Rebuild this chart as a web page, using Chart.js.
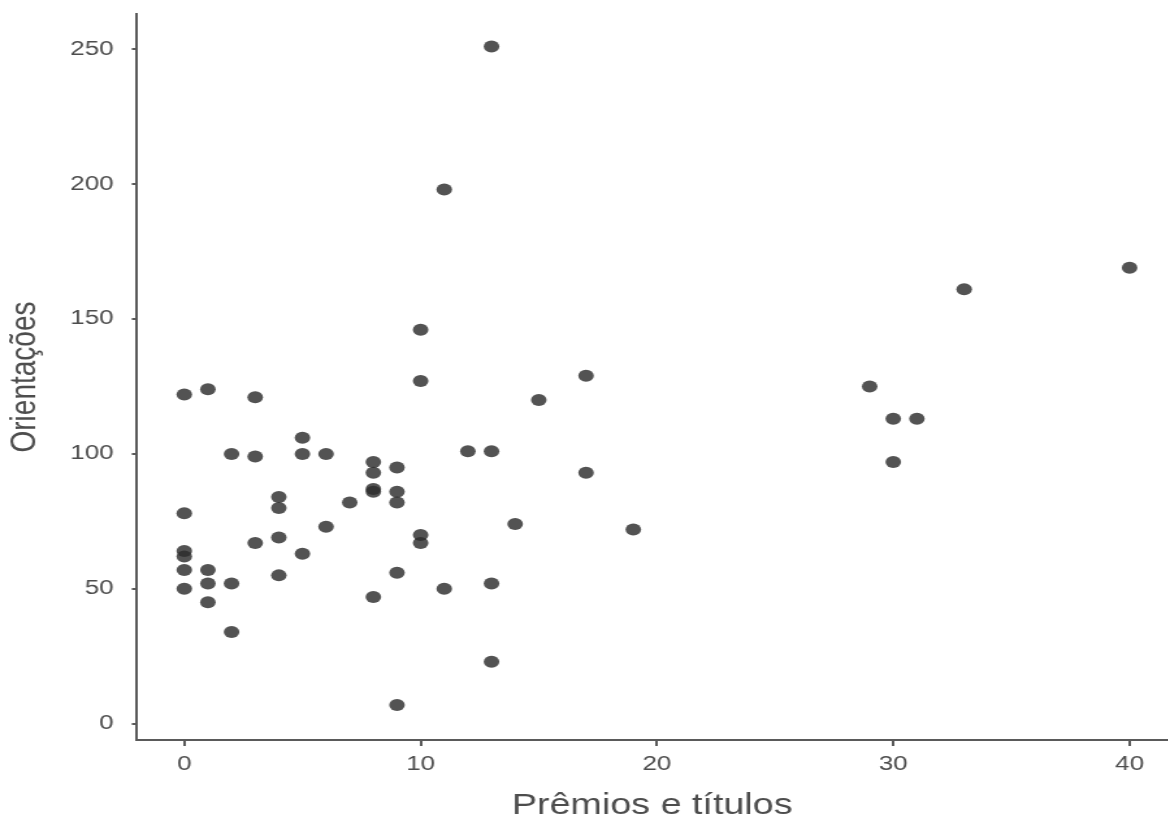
<!DOCTYPE html>
<html>
<head>
<meta charset="utf-8">
<script src="https://cdn.jsdelivr.net/npm/chart.js@4"></script>
<style>
  html, body { margin: 0; padding: 0; background: #fff; overflow: hidden; }
  /* a figura original está esticada na horizontal: desenha-se estreita e estica-se */
  #wrap { width: 904px; height: 823px; transform: scaleX(1.3); transform-origin: 0 0; }
</style>
</head>
<body>
<div id="wrap"><canvas id="grafico" width="904" height="823"></canvas></div>
<script>
// Prêmios e títulos (x) vs Orientações (y)
const premios = [13, 11, 40, 33, 10, 17, 10, 29, 1, 0, 3, 15, 30, 31, 5, 12, 13, 2, 5, 6,
  3, 30, 8, 9, 8, 17, 8, 8, 9, 4, 7, 9, 4, 0, 14, 6, 19, 10, 10, 4,
  3, 0, 0, 5, 0, 1, 9, 4, 1, 2, 13, 0, 11, 8, 1, 2, 13, 9];
const orientacoes = [251, 198, 169, 161, 146, 129, 127, 125, 124, 122, 121, 120, 113, 113, 106, 101, 101, 100, 100, 100,
  99, 97, 97, 95, 93, 93, 87, 86, 86, 84, 82, 82, 80, 78, 74, 73, 72, 70, 67, 69,
  67, 64, 62, 63, 57, 57, 56, 55, 52, 52, 52, 50, 50, 47, 45, 34, 23, 7];
const xTicks = [0, 10, 20, 30, 40];
const yTicks = [0, 50, 100, 150, 200, 250];

const pontos = premios.map((x, i) => ({ x: x, y: orientacoes[i] }));

const corEixo = '#5a5a5a';
const corTexto = '#4d4d4d';
const fonte = 'Liberation Sans, Arial, sans-serif';

const ctx = document.getElementById('grafico').getContext('2d');
const grafico = new Chart(ctx, {
  type: 'scatter',
  data: {
    datasets: [{
      label: 'Orientações',
      data: pontos,
      pointStyle: 'circle',
      pointRadius: 6,
      pointBorderWidth: 0,
      backgroundColor: 'rgba(45, 45, 45, 0.82)',
      borderColor: 'rgba(45, 45, 45, 0)'
    }]
  },
  options: {
    responsive: false,
    animation: false,
    layout: { padding: { left: 2, top: 14, right: 0, bottom: 0 } },
    plugins: {
      legend: { display: false },
      tooltip: { enabled: false }
    },
    scales: {
      x: {
        type: 'linear',
        min: -2,
        max: 41.6,
        afterBuildTicks: axis => { axis.ticks = xTicks.map(v => ({ value: v })); },
        afterFit: axis => {
          axis.height = 83;
          axis.paddingLeft = 0;
          axis.paddingRight = 0;
        },
        grid: { drawOnChartArea: false, drawTicks: true, tickLength: 6, color: corEixo, lineWidth: 2 },
        border: { display: true, color: corEixo, width: 2 },
        ticks: { color: corTexto, padding: 6, font: { family: fonte, size: 20 } },
        title: {
          display: true,
          text: 'Prêmios e títulos',
          color: corTexto,
          padding: { top: 0, bottom: 0 },
          font: { family: fonte, size: 29 }
        }
      },
      y: {
        type: 'linear',
        min: -6,
        max: 263,
        afterBuildTicks: axis => { axis.ticks = yTicks.map(v => ({ value: v })); },
        afterFit: axis => {
          axis.width = 103.4;
          axis.paddingTop = 0;
          axis.paddingBottom = 0;
        },
        grid: { drawOnChartArea: false, drawTicks: true, tickLength: 4, color: corEixo, lineWidth: 2 },
        border: { display: true, color: corEixo, width: 2 },
        ticks: { color: corTexto, padding: 14, font: { family: fonte, size: 20 } },
        title: {
          display: true,
          text: 'Orientações',
          color: corTexto,
          padding: { top: 0, bottom: 0 },
          font: { family: fonte, size: 28 }
        }
      }
    }
  }
});
</script>
</body>
</html>
